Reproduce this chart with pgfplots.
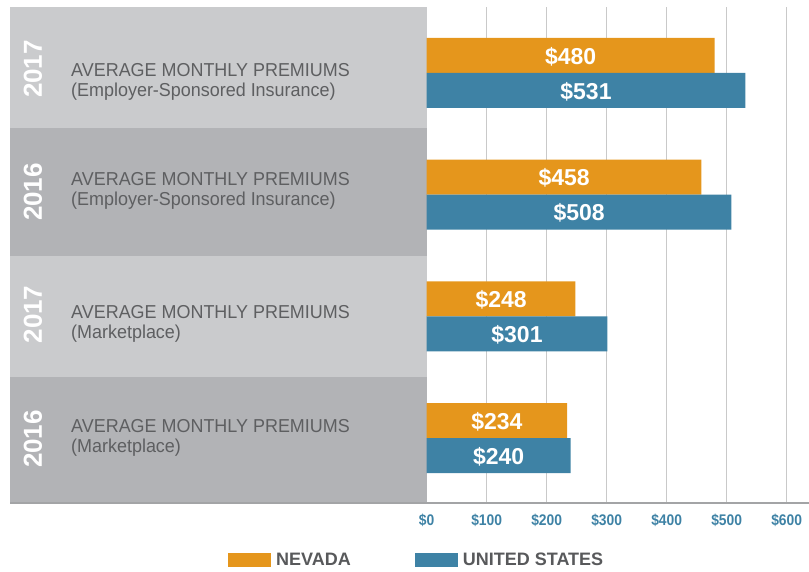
\documentclass[border=0pt]{standalone}
\usepackage{fontspec}
\setmainfont{Liberation Sans}
\newfontfamily\labelfont[FakeStretch=0.96]{Liberation Sans}
\newfontfamily\tickfont[FakeStretch=0.9]{Liberation Sans}
\usepackage{pgfplots}
\pgfplotsset{compat=1.18}
\definecolor{nvorange}{HTML}{E5961C}
\definecolor{usblue}{HTML}{3E82A5}
\definecolor{bandlight}{HTML}{CACBCD}
\definecolor{banddark}{HTML}{B2B3B6}
\definecolor{labelgray}{HTML}{5E5F61}
\definecolor{legendgray}{HTML}{58595B}
\definecolor{gridgray}{HTML}{C9C9C9}
\definecolor{axisgray}{HTML}{A3A4A6}
\begin{document}
\begin{tikzpicture}
\useasboundingbox (0,0) rectangle (809pt,-571pt);
\begin{axis}[
  at={(10pt,-503pt)}, anchor=south west,
  scale only axis, width=799pt, height=496pt,
  xmin=-694.5, xmax=637.2, ymin=-0.533, ymax=3.542,
  xbar, bar width=35pt,
  axis y line=none, axis x line*=bottom,
  x axis line style={draw=axisgray, line width=1.5pt, -},
  xtick={0,100,...,600},
  xticklabels={\$0,\$100,\$200,\$300,\$400,\$500,\$600},
  major tick length=0pt,
  xmajorgrids, grid style={gridgray, line width=1.5pt},
  xticklabel style={font=\tickfont\bfseries\fontsize{15.4pt}{15.4pt}\selectfont, text=usblue, yshift=-8pt},
  clip=false,
  point meta=x,
  /pgf/number format/assume math mode=true,
  nodes near coords={\$\pgfmathprintnumber{\pgfplotspointmeta}},
  visualization depends on={rawx \as \rawx},
  every node near coord/.append style={anchor=center, xshift={-0.3pt*\rawx}, yshift=-1pt, text=white, font=\bfseries\fontsize{23pt}{23pt}\selectfont},
  legend style={at={(0.2728,-0.1149)}, anchor=west, draw=none, fill=none, inner sep=0pt,
    font=\bfseries\fontsize{18pt}{18pt}\selectfont, text=legendgray,
    /tikz/every odd column/.append style={column sep=3pt},
    /tikz/every even column/.append style={column sep=62pt}},
  legend columns=2,
  legend image code/.code={\fill[#1] (0pt,-7pt) rectangle (43pt,7pt);},
]
\fill[bandlight] (axis cs:-694.5,3.542) rectangle (axis cs:0,2.548);
\fill[banddark] (axis cs:-694.5,2.548) rectangle (axis cs:0,1.496);
\fill[bandlight] (axis cs:-694.5,1.496) rectangle (axis cs:0,0.502);
\fill[banddark] (axis cs:-694.5,0.502) rectangle (axis cs:0,-0.533);
\addplot[fill=nvorange, draw=none, bar shift=17.5pt] coordinates {(480,3) (458,2) (248,1) (234,0)};
\addplot[fill=usblue, draw=none, bar shift=-17.5pt] coordinates {(531,3) (508,2) (301,1) (240,0)};
\legend{NEVADA, UNITED STATES}
\draw[axisgray, line width=1.5pt] (axis cs:-694.5,-0.533) -- (axis cs:637.2,-0.533);
\end{axis}
\begin{scope}[every node/.style={inner sep=0pt, anchor=base west, text=labelgray, font=\labelfont\fontsize{18.7pt}{20pt}\selectfont}]
\node at (71pt,-76pt) {AVERAGE MONTHLY PREMIUMS};
\node at (71pt,-96pt) {(Employer-Sponsored Insurance)};
\node at (71pt,-185pt) {AVERAGE MONTHLY PREMIUMS};
\node at (71pt,-205pt) {(Employer-Sponsored Insurance)};
\node at (71pt,-318pt) {AVERAGE MONTHLY PREMIUMS};
\node at (71pt,-338pt) {(Marketplace)};
\node at (71pt,-432pt) {AVERAGE MONTHLY PREMIUMS};
\node at (71pt,-452pt) {(Marketplace)};
\end{scope}
\begin{scope}[every node/.style={inner sep=0pt, rotate=90, text=white, font=\bfseries\fontsize{26pt}{26pt}\selectfont}]
\node at (33pt,-69pt) {2017};
\node at (33pt,-192pt) {2016};
\node at (33pt,-314.5pt) {2017};
\node at (33pt,-439pt) {2016};
\end{scope}
\end{tikzpicture}
\end{document}
